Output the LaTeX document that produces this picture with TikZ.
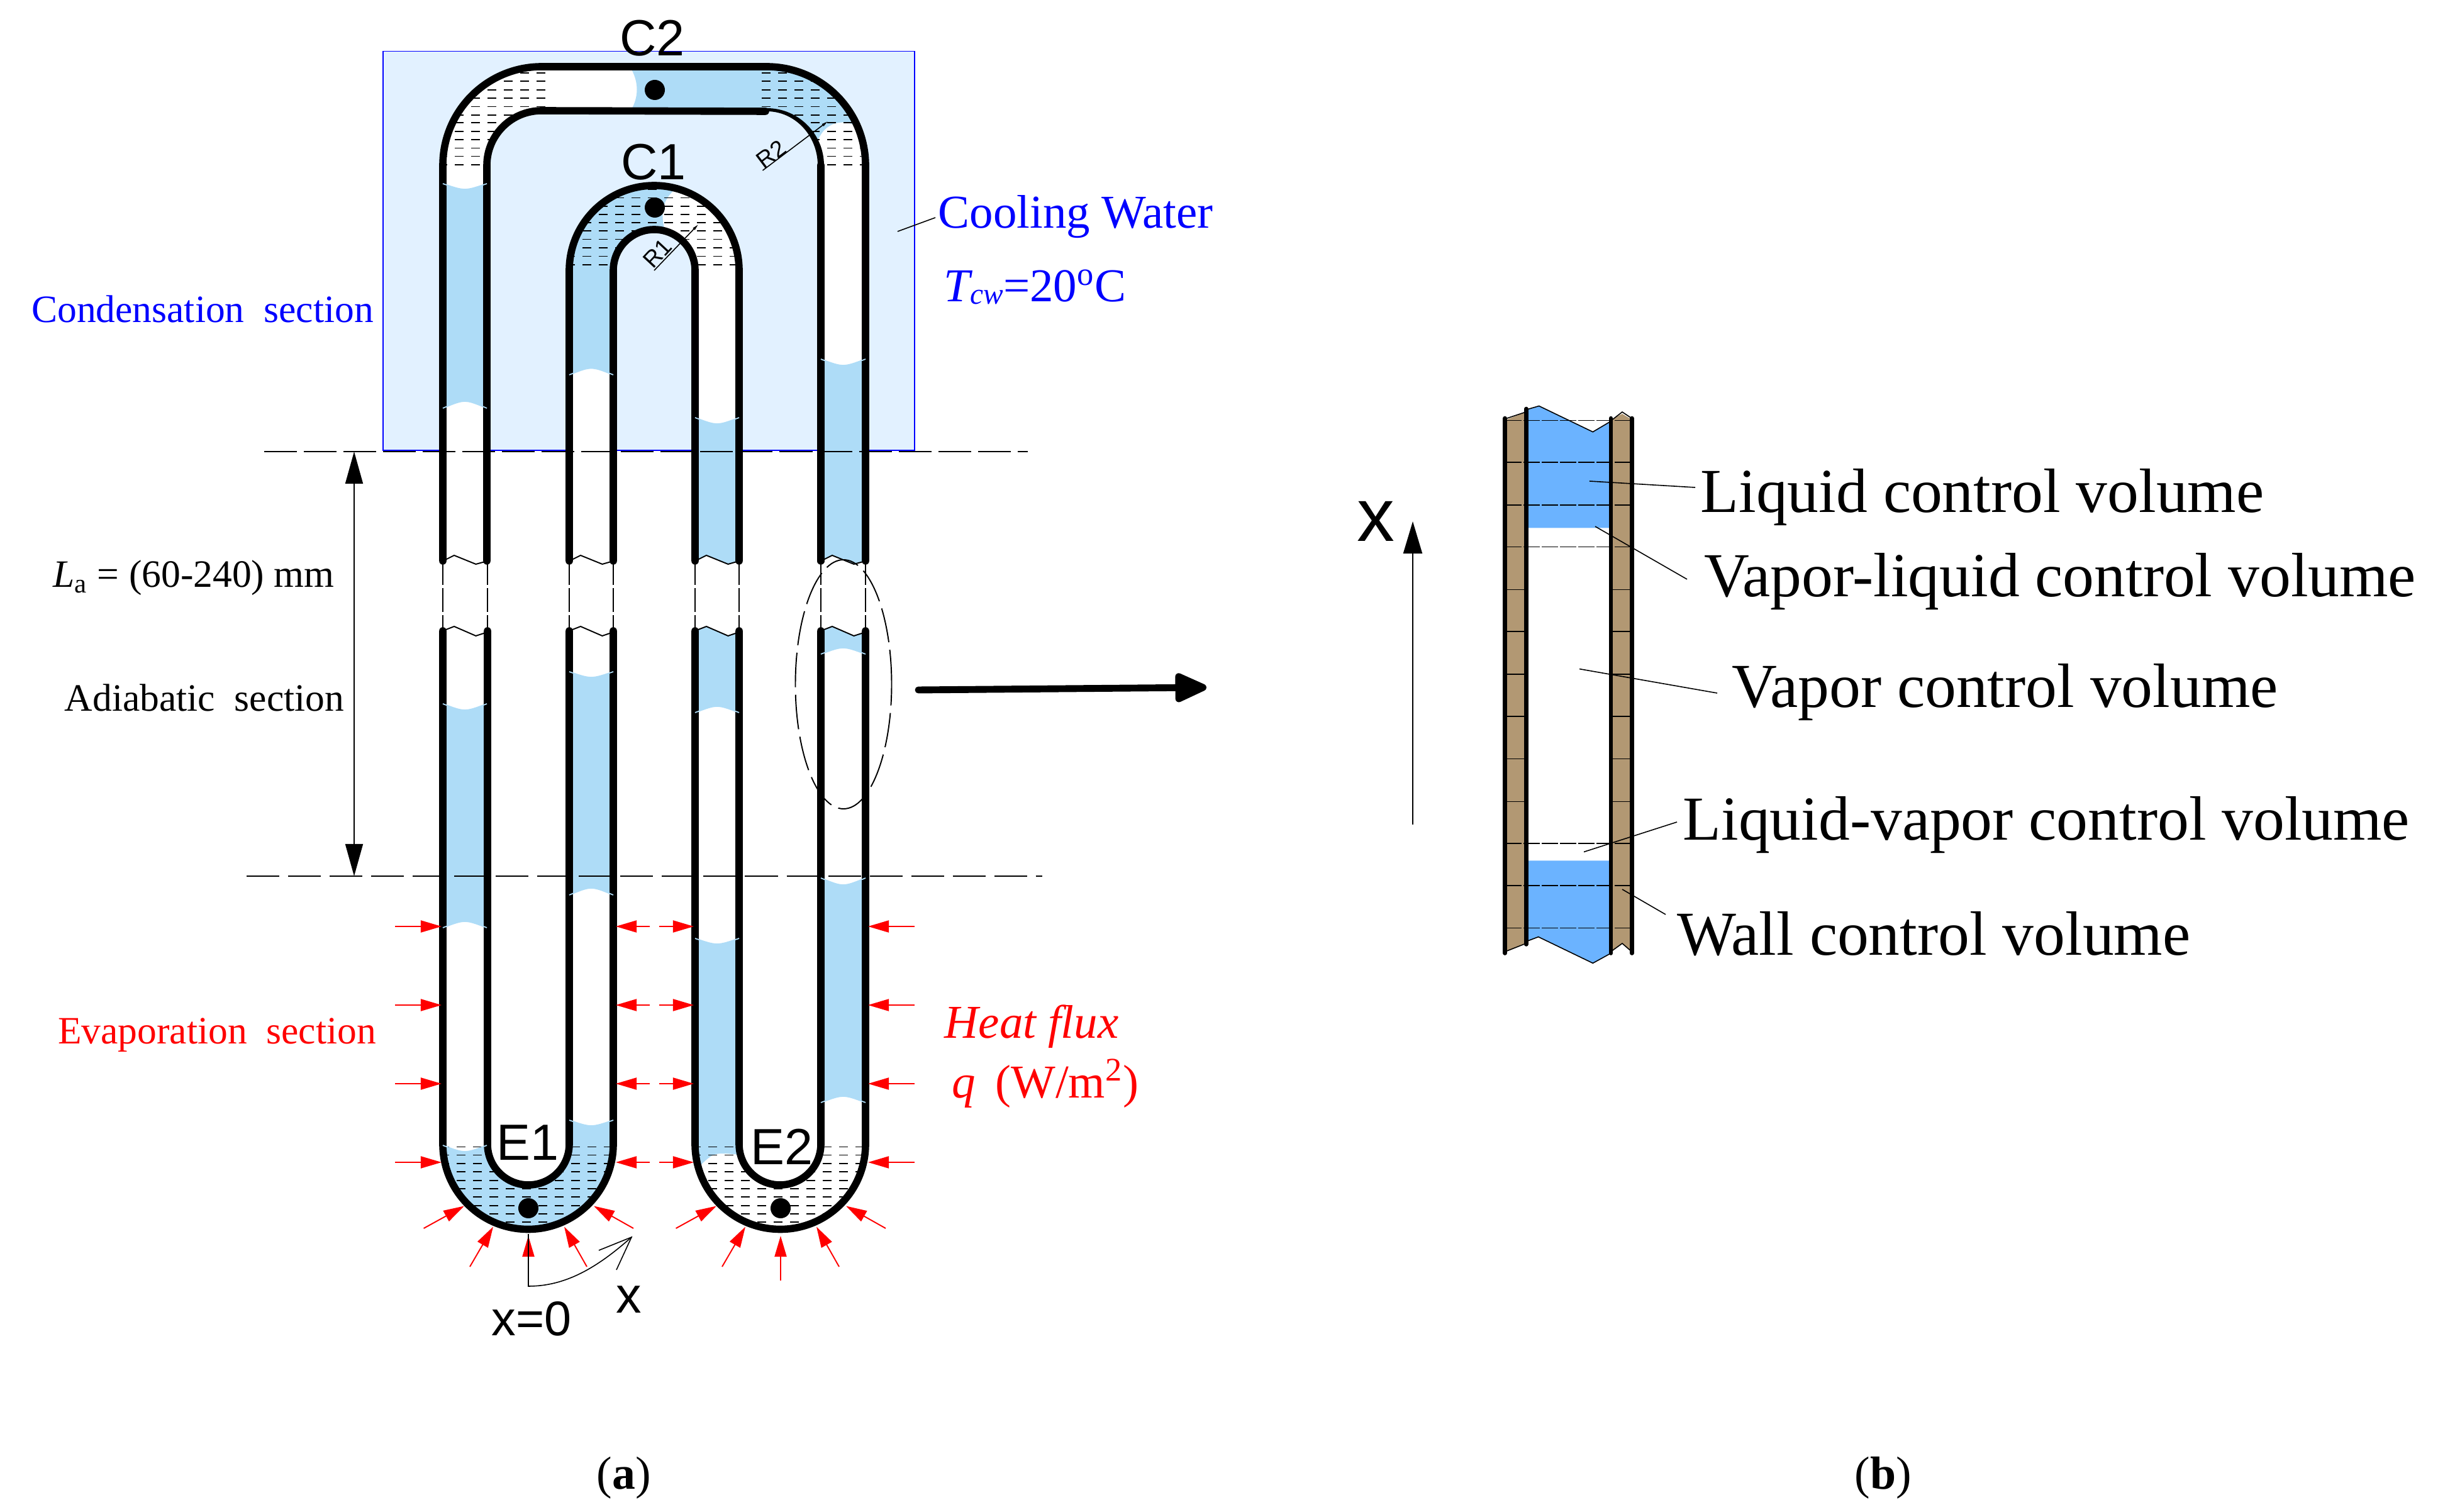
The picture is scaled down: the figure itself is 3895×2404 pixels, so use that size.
\documentclass[tikz,border=0pt]{standalone}
\usepackage{fontspec}
\setmainfont{Liberation Serif}
\setsansfont{Liberation Sans}
\usetikzlibrary{arrows.meta, positioning}

\definecolor{liquid}{HTML}{AEDCF7}
\definecolor{coolbox}{HTML}{E2F1FF}
\definecolor{liquidb}{HTML}{6BB3FF}
\definecolor{wallb}{HTML}{B29873}

\tikzset{
  wall/.style={line width=3.3pt, line cap=round, line join=round},
  hatch/.style={line width=0.35pt, dash pattern=on 0.14cm off 0.12cm},
  heat/.style={red, line width=0.55pt, -{Triangle[length=0.33cm, width=0.19cm]}},
  secfont/.style={font=\fontsize{17.5}{20}\selectfont},
  bigfont/.style={font=\fontsize{21.3}{24}\selectfont, anchor=base west, inner sep=0pt},
  volfont/.style={font=\fontsize{28.3}{32}\selectfont, anchor=base west, inner sep=0pt},
  pointfont/.style={font=\sffamily\fontsize{23}{26}\selectfont, anchor=base, inner sep=0pt},
  radfont/.style={font=\sffamily\fontsize{10.5}{12}\selectfont, inner sep=0pt},
  leader/.style={line width=0.45pt},
  capfont/.style={font=\fontsize{21}{24}\selectfont}
}

% left, right, top edge, top middle, bottom edge, bottom middle
\newcommand{\slug}[6]{%
  \pgfmathsetmacro{\ctop}{#3+(#4-#3)*4/3}%
  \pgfmathsetmacro{\cbot}{#5+(#6-#5)*4/3}%
  \fill[liquid] (#1,-#3) .. controls (#1/2+#2/2,-\ctop) .. (#2,-#3) -- (#2,-#5) .. controls (#1/2+#2/2,-\cbot) .. (#1,-#5) -- cycle;
}

\begin{document}
\begin{tikzpicture}[x=0.01cm, y=0.01cm, >=Stealth]
\useasboundingbox (0,0) rectangle (3895,-2404);

% Cooling box
\fill[coolbox] (609,-81.5) rectangle (1454,-716);
\draw[blue, line width=0.5pt] (609,-81.5) rectangle (1454,-716);

% White pipe inside the box
\draw[white, line width=19.9pt] (739,-760) -- (739,-263) arc[start angle=180, end angle=90, radius=122] -- (1219,-141) arc[start angle=90, end angle=0, radius=122] -- (1341,-760);
\draw[white, line width=19.9pt] (940,-760) -- (940,-430) arc[start angle=180, end angle=0, radius=100] -- (1140,-760);

% Liquid in the legs
\slug{704}{774}{292}{301}{649}{638}
\slug{704}{774}{1119}{1129}{1475}{1465}
\slug{905}{975}{1068}{1077}{1423}{1412}
\slug{1105}{1175}{664}{674}{1133}{1123}
\slug{1305}{1376}{571}{581}{1040}{1030}
\slug{1305}{1376}{1396}{1407}{1753}{1743}

% Liquid at C1, left part of the bend
\fill[liquid] (905,-596) -- (905,-430) arc[start angle=180, end angle=75, radius=135] .. controls (1052,-318) and (1050,-340) .. (1057,-367) arc[start angle=77, end angle=180, radius=65] -- (975,-596) .. controls (940,-581) .. (905,-596) -- cycle;

% Liquid at C2, right part of the top
\fill[liquid] (1002,-107) .. controls (1016,-130) and (1016,-155) .. (1002,-177) -- (1219,-177) arc[start angle=90, end angle=24, radius=87] .. controls (1310,-190) and (1345,-190) .. (1362,-200.7) arc[start angle=24, end angle=90, radius=157] -- cycle;

% Liquid at E1 and lower end of the third leg
\fill[liquid] (705,-1819) arc[start angle=180, end angle=360, radius=135] -- (975,-1781) .. controls (940,-1793) .. (905,-1781) -- (905,-1819) arc[start angle=360, end angle=180, radius=65] -- cycle;
\fill[white] (705,-1821) .. controls (740,-1834) .. (775,-1821) -- (775,-1810) -- (705,-1810) -- cycle;
\fill[liquid] (1105,-1492) .. controls (1140,-1504) .. (1175,-1492) -- (1175,-1836) .. controls (1135,-1832) .. (1110,-1856) -- cycle;

% Hatching in the bends
\begin{scope}
\clip (704,-263) arc[start angle=180, end angle=90, radius=157] -- (867,-106) -- (867,-176) -- (861,-176) arc[start angle=90, end angle=180, radius=87] -- cycle;
\foreach \y in {116,129,143,156,169.5,183,195,209,222,235.5,248.5,262}
  \draw[hatch] (867,-\y) -- (700,-\y);
\end{scope}
\begin{scope}
\clip (1211,-106) -- (1219,-106) arc[start angle=90, end angle=0, radius=157] -- (1305,-263) arc[start angle=0, end angle=90, radius=87] -- (1211,-176) -- cycle;
\foreach \y in {116,129,143,156,169.5,183,195,209,222,235.5,248.5,262}
  \draw[hatch] (1211,-\y) -- (1380,-\y);
\end{scope}
\begin{scope}[even odd rule]
\clip (1040,-430) circle[radius=135] (1040,-430) circle[radius=65];
\foreach \y in {301,314.5,328,341,354,367,380.6,394,407.4,421}
  \draw[hatch] (900,-\y) -- (1180,-\y);
\end{scope}
\foreach \cx in {840,1240}{
\begin{scope}[even odd rule]
\clip (\cx,-1819) circle[radius=135] (\cx,-1819) circle[radius=65];
\foreach \y in {1823.3,1836.7,1850,1863,1877,1890,1903,1917,1930,1943}
  \draw[hatch] (\cx-140,-\y) -- (\cx+140,-\y);
\end{scope}
}

% Breaks in the legs
\foreach \xa/\xb in {704/775,905/975,1105/1175,1305/1376}{
  \fill[white] (\xa,-892) -- (\xa+18,-883) -- (\xa+52.5,-897) -- (\xb,-892) -- (\xb,-1005) -- (\xa+52.5,-1011) -- (\xa+18,-996) -- (\xa,-1003) -- cycle;
  \draw[line width=0.55pt] (\xa,-892) -- (\xa+18,-883) -- (\xa+52.5,-897) -- (\xb,-892);
  \draw[line width=0.55pt] (\xa,-1003) -- (\xa+18,-996) -- (\xa+52.5,-1011) -- (\xb,-1005);
  \draw[line width=0.5pt, dash pattern=on 0.38cm off 0.05cm] (\xa,-892) -- (\xa,-1003);
  \draw[line width=0.5pt, dash pattern=on 0.38cm off 0.05cm] (\xb,-892) -- (\xb,-1003);
}

% Upper pipe walls
\draw[wall] (704,-892) -- (704,-263) arc[start angle=180, end angle=90, radius=157] -- (1219,-106) arc[start angle=90, end angle=0, radius=157] -- (1376,-892);
\draw[wall] (774,-892) -- (774,-263) arc[start angle=180, end angle=90, radius=87] -- (1217,-177);
\fill (1219,-172) arc[start angle=90, end angle=0, radius=91] -- (1300,-263) arc[start angle=0, end angle=90, x radius=81, y radius=86] -- cycle;
\draw[wall] (1305,-263) -- (1305,-892);
\draw[wall] (905,-892) -- (905,-430) arc[start angle=180, end angle=0, radius=135] -- (1175,-892);
\draw[wall] (975,-892) -- (975,-430) arc[start angle=180, end angle=0, radius=65] -- (1105,-892);

% Lower pipe walls
\draw[wall] (704,-1003) -- (704,-1819) arc[start angle=180, end angle=360, radius=135.5] -- (975,-1003);
\draw[wall] (775,-1003) -- (775,-1819) arc[start angle=180, end angle=360, radius=65] -- (905,-1003);
\draw[wall] (1105,-1003) -- (1105,-1819) arc[start angle=180, end angle=360, radius=135.5] -- (1376,-1003);
\draw[wall] (1175,-1003) -- (1175,-1819) arc[start angle=180, end angle=360, radius=65] -- (1305,-1003);

% Meniscus lines
\foreach \xa/\xb/\ye/\ym in {704/774/292/301,704/774/649/638,704/774/1119/1129,704/774/1475/1465,704/774/1821/1831,
  905/975/596/585.5,905/975/1068/1077,905/975/1423/1412,905/975/1781/1790,
  1105/1175/664/674,1105/1175/1133/1123,1105/1175/1492/1501,
  1305/1376/571/581,1305/1376/1040/1030,1305/1376/1396/1407,1305/1376/1753/1743}{
  \pgfmathsetmacro{\yc}{\ye+(\ym-\ye)*4/3}
  \draw[liquid, line width=0.5pt] (\xa,-\ye) .. controls (\xa/2+\xb/2,-\yc) .. (\xb,-\ye);
}

% Dots
\foreach \px/\py in {1041/143,1041/330,840/1921,1241/1921}
  \fill (\px,-\py) circle[radius=16];

% Section lines
\draw[line width=0.6pt, dash pattern=on 0.52cm off 0.11cm] (420,-718) -- (1634,-718);
\draw[line width=0.3pt, dash pattern=on 0.52cm off 0.14cm] (392,-1393) -- (1657,-1393);

% Radius marks
\draw[leader, -{Triangle[length=0.1cm, width=0.04cm]}] (1040,-430) -- (1110,-357);
\draw[leader, -{Triangle[length=0.1cm, width=0.04cm]}] (1212.5,-271) -- (1316,-193);
\node[radfont, rotate=47] (r1) at (1045,-403) {R1};
\node[radfont, rotate=37] (r2) at (1226,-245) {R2};

% Point labels
\node[pointfont] (c2) at (1037,-89) {C2};
\node[pointfont] (c1) at (1039,-286) {C1};
\node[pointfont] (e1) at (839,-1844) {E1};
\node[pointfont] (e2) at (1243,-1851) {E2};
\node[pointfont, font=\sffamily\fontsize{22}{26}\selectfont] (x0) at (845,-2123) {x=0};
\node[pointfont] (xs) at (1000,-2087) {x};

% Length arrow
\coordinate (latop) at (563,-718);
\coordinate (labot) at (563,-1393);
\draw[line width=0.5pt, {Triangle[length=0.51cm, width=0.28cm]}-{Triangle[length=0.51cm, width=0.28cm]}] (latop) -- (labot);

% Section texts
\node[secfont, blue] (cond) at (322,-491) {Condensation\ \ section};
\node[secfont] (la) at (308,-919) {{\itshape L}\textsubscript{a} = (60-240) mm};
\node[secfont] (adia) at (325,-1109) {Adiabatic\ \ section};
\node[secfont, red] (evap) at (345,-1646) {Evaporation\ \ section};

% Cooling water
\node[bigfont, blue] (cool) at (1491,-363) {Cooling Water};
\node[bigfont, blue] (tcw) at (1500,-480) {{\itshape T\raisebox{-1pt}{\fontsize{13.5}{16}\selectfont cw}}=20\textsuperscript{o}C};
\coordinate (coolin) at (1427,-368);
\coordinate (coolout) at (1487,-346);
\draw[leader] (coolin) -- (coolout);

% Heat flux
\node[bigfont, red] (flux) at (1501,-1650) {\itshape Heat flux};
\node[bigfont, red] (qflux) at (1513,-1745) {{\itshape q}\ \,(W/m\textsuperscript{2})};
\foreach \y in {1473,1598,1723,1848}{
  \draw[heat] (628,-\y) -- (702,-\y);
  \draw[heat] (1033,-\y) -- (979,-\y);
  \draw[heat] (1048,-\y) -- (1103,-\y);
  \draw[heat] (1454,-\y) -- (1380,-\y);
}
\foreach \dx in {0,401}{
  \draw[heat] (673.6+\dx,-1953) -- (738+\dx,-1917.5);
  \draw[heat] (747+\dx,-2014) -- (784+\dx,-1950.5);
  \draw[heat] (840+\dx,-2036) -- (840+\dx,-1965);
  \draw[heat] (933+\dx,-2014) -- (897+\dx,-1950.5);
  \draw[heat] (1007+\dx,-1953) -- (944+\dx,-1917.5);
}

% Coordinate x
\coordinate (xtip) at (1004,-1967);
\draw[leader] (840,-1962) -- (840,-2045) .. controls (900,-2045) and (950,-2015) .. (xtip);
\draw[leader] (952,-1988) -- (xtip) -- (980,-2019);

% Detail ellipse and arrow
\draw[line width=0.55pt, dash pattern=on 0.55cm off 0.12cm] (1341,-1088) ellipse[x radius=76.5, y radius=198];
\coordinate (bigfrom) at (1460,-1097);
\coordinate (bigto) at (1918,-1093);
\draw[line width=3.1pt, line cap=round, -{Triangle[length=0.58cm, width=0.49cm, round]}] (bigfrom) -- (bigto);

% Wall volumes
\fill[wallb] (2393,-668) -- (2426,-655) -- (2426,-1500) -- (2393,-1514) -- cycle;
\fill[wallb] (2561,-667) -- (2579,-658) -- (2594,-667) -- (2594,-1514) -- (2579,-1500) -- (2561,-1514) -- cycle;
\draw[leader] (2393,-666) -- (2426,-655);
\draw[leader] (2393,-1513) -- (2426,-1500);
\draw[leader] (2561,-669) -- (2579,-655) -- (2594,-665);
\draw[leader] (2561,-1513) -- (2579,-1500) -- (2594,-1513);

% Liquid volumes
\fill[liquidb] (2426,-651.5) -- (2446.7,-645.5) -- (2532.3,-686.7) -- (2561,-669.7) -- (2561,-839.4) -- (2426,-839.4) -- cycle;
\fill[liquidb] (2426,-1368.4) -- (2561,-1368.4) -- (2561,-1515.6) -- (2532.3,-1531.4) -- (2445.7,-1489.6) -- (2426,-1497) -- cycle;
\draw[leader] (2426,-651.5) -- (2446.7,-645.5) -- (2532.3,-686.7) -- (2561,-669.7);
\draw[leader] (2426,-1497) -- (2445.7,-1489.6) -- (2532.3,-1531.4) -- (2561,-1515.6);

% Cell lines
\foreach \y in {668.5,735,803,869.7,1341,1408,1475.7}
  \draw[line width=0.35pt, dash pattern=on 0.26cm off 0.03cm] (2393,-\y) -- (2594,-\y);
\foreach \y in {937.5,1004,1072,1139,1206.6,1274.5}{
  \draw[line width=0.35pt] (2393,-\y) -- (2426,-\y);
  \draw[line width=0.35pt] (2561,-\y) -- (2594,-\y);
}

% Tube walls
\draw[line width=1.85pt, line cap=round] (2392.7,-665) -- (2392.7,-1515.6);
\draw[line width=1.85pt, line cap=round] (2426.3,-650) -- (2426.3,-1501.5);
\draw[line width=1.85pt, line cap=round] (2561,-665) -- (2561,-1515.6);
\draw[line width=1.85pt, line cap=round] (2594.3,-665) -- (2594.3,-1515.6);

% Volume labels
\node[volfont] (liq) at (2703,-815) {Liquid control volume};
\node[volfont] (vl) at (2709,-949) {Vapor-liquid control volume};
\node[volfont] (vap) at (2753,-1125) {Vapor control volume};
\node[volfont] (lv) at (2675,-1336) {Liquid-vapor control volume};
\node[volfont] (wal) at (2666,-1519) {Wall control volume};

% Leaders
\coordinate (liqin) at (2527,-765);
\coordinate (vlin) at (2536,-837);
\coordinate (vapin) at (2511,-1063.6);
\coordinate (lvin) at (2518,-1354.5);
\coordinate (walin) at (2579,-1414);
\coordinate (liqout) at (2695,-775);
\coordinate (vlout) at (2682,-921);
\coordinate (vapout) at (2730,-1102);
\coordinate (lvout) at (2666,-1307);
\coordinate (walout) at (2648,-1454);
\draw[leader] (liqin) -- (liqout);
\draw[leader] (vlin) -- (vlout);
\draw[leader] (vapin) -- (vapout);
\draw[leader] (lvin) -- (lvout);
\draw[leader] (walin) -- (walout);

% Flow direction
\node[font=\sffamily\fontsize{34}{38}\selectfont, anchor=base, inner sep=0pt] (xb) at (2187,-861) {x};
\coordinate (xfrom) at (2246,-1311);
\coordinate (xto) at (2246,-829);
\draw[line width=0.57pt, -{Triangle[length=0.51cm, width=0.3cm]}] (xfrom) -- (xto);

% Captions
\node[capfont] (capa) at (992,-2350) {(\textbf{a})};
\node[capfont] (capb) at (2994,-2350) {(\textbf{b})};

\end{tikzpicture}
\end{document}
